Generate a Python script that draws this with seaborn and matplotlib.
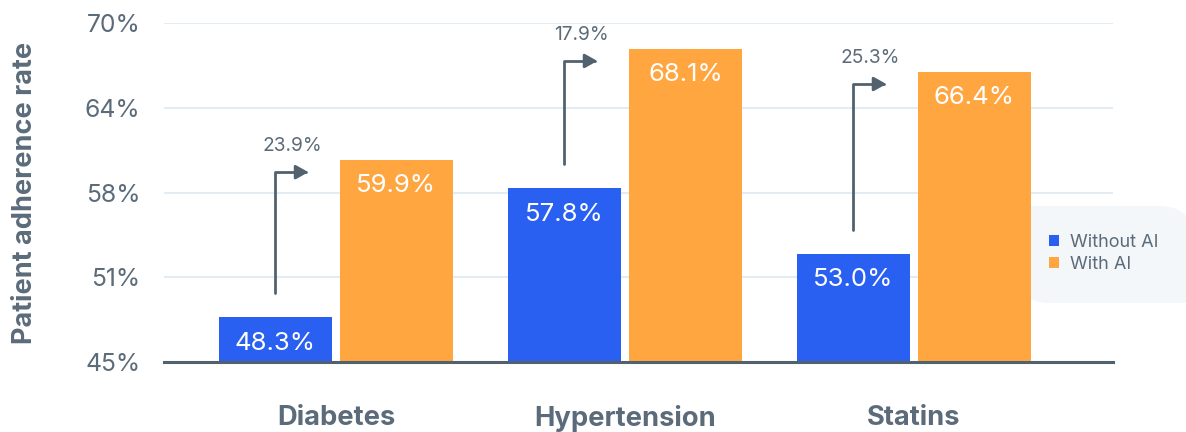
import matplotlib
matplotlib.use("Agg")
import matplotlib.pyplot as plt
import seaborn as sns
import pandas as pd
from matplotlib.path import Path
from matplotlib.patches import PathPatch
from matplotlib.transforms import IdentityTransform

# ---- data ----
categories = ["Diabetes", "Hypertension", "Statins"]
groups = ["Without AI", "With AI"]
without_ai = [48.3, 57.8, 53.0]
with_ai = [59.9, 68.1, 66.4]
deltas = [23.9, 17.9, 25.3]
ytick_values = [45, 51.25, 57.5, 63.75, 70]
ytick_labels = ["45%", "51%", "58%", "64%", "70%"]

BLUE = "#2A60F2"
ORANGE = "#FFA641"
GRAY = "#5B6B79"
ARROW = "#52616E"
GRID = "#E3ECF4"

sns.set_style("white")
plt.rcParams["font.family"] = ["Inter", "DejaVu Sans"]

df = pd.DataFrame({
    "Condition": categories * 2,
    "Group": [groups[0]] * 3 + [groups[1]] * 3,
    "Rate": without_ai + with_ai,
})

W, H = 1186, 432
fig = plt.figure(figsize=(W / 100, H / 100), dpi=100)
ax = fig.add_axes([164 / W, 70 / H, (1113 - 164) / W, (362 - 23) / H])

sns.barplot(data=df, x="Condition", y="Rate", hue="Group", hue_order=groups,
            palette=[BLUE, ORANGE], saturation=1, width=0.837, gap=0.066,
            linewidth=0, ax=ax, legend=True, errorbar=None)

ax.set_ylim(45, 70)
ax.set_xlim(-0.595, 2.689)
ax.set_yticks(ytick_values, ytick_labels)
ax.set_xlabel("")
ax.set_ylabel("Patient adherence rate", fontsize=19.5, fontweight="bold",
              color=GRAY, va="center")
ax.yaxis.set_label_coords(-139 / 949, 0.5)

ax.tick_params(axis="y", length=0, pad=17, labelsize=17.8, labelcolor=GRAY)
ax.tick_params(axis="x", length=0, pad=31, labelsize=19.7, labelcolor=GRAY)
for t in ax.get_xticklabels():
    t.set_fontweight("bold")

ax.set_axisbelow(True)
ax.yaxis.grid(True, color=GRID, lw=1.5)
ax.xaxis.grid(False)
for s in ["left", "right", "top"]:
    ax.spines[s].set_visible(False)
ax.spines["bottom"].set_color(ARROW)
ax.spines["bottom"].set_linewidth(2.2)

# value labels inside bars
for cont in ax.containers:
    for bar in cont:
        v = bar.get_height()
        cx = bar.get_x() + bar.get_width() / 2
        ax.annotate(f"{v:.1f}%", xy=(cx, v), xytext=(0, -26),
                    textcoords="offset pixels", ha="center", va="center",
                    color="white", fontsize=18.5)

# elbow arrows with relative increase
for i, d in enumerate(deltas):
    b0 = ax.containers[0][i]
    b1 = ax.containers[1][i]
    x0 = b0.get_x() + b0.get_width() / 2
    y0 = b0.get_height() + 1.77
    y1 = b1.get_height() - 0.9
    x1 = x0 + 0.114
    ax.annotate("", xy=(x1, y1), xytext=(x0, y0),
                arrowprops=dict(arrowstyle="-|>,head_length=0.75,head_width=0.42",
                                connectionstyle="angle,angleA=90,angleB=0,rad=0",
                                color=ARROW, lw=2.0, shrinkA=0, shrinkB=0,
                                mutation_scale=10))
    ax.text((x0 + x1) / 2, y1 + 1.95, f"{d:.1f}%", ha="center", va="center",
            fontsize=13.8, color=GRAY)

# legend background box (pixel coords, y up)
def rounded_path(x0, y0, x1, y1, r_tl, r_tr, r_br, r_bl):
    verts = [
        (x0 + r_bl, y0),
        (x1 - r_br, y0), (x1, y0), (x1, y0 + r_br),
        (x1, y1 - r_tr), (x1, y1), (x1 - r_tr, y1),
        (x0 + r_tl, y1), (x0, y1), (x0, y1 - r_tl),
        (x0, y0 + r_bl), (x0, y0), (x0 + r_bl, y0),
        (x0 + r_bl, y0),
    ]
    codes = [Path.MOVETO,
             Path.LINETO, Path.CURVE3, Path.CURVE3,
             Path.LINETO, Path.CURVE3, Path.CURVE3,
             Path.LINETO, Path.CURVE3, Path.CURVE3,
             Path.LINETO, Path.CURVE3, Path.CURVE3,
             Path.CLOSEPOLY]
    return Path(verts, codes)

box = PathPatch(rounded_path(1014, H - 303, 1192, H - 206, 5, 32, 1, 36),
                transform=IdentityTransform(), facecolor="#F3F7FA",
                edgecolor="none", zorder=0.9, clip_on=False)
ax.add_patch(box)

handles, labels = ax.get_legend_handles_labels()
ax.legend(handles, labels, loc="center left",
          bbox_to_anchor=(1049 / W, (H - 253.5) / H), bbox_transform=fig.transFigure,
          frameon=False, fontsize=13, labelcolor=GRAY, handlelength=0.55,
          handleheight=0.55, handletextpad=0.6, labelspacing=0.25,
          borderpad=0, borderaxespad=0)

fig.savefig("out.png", dpi=100)
